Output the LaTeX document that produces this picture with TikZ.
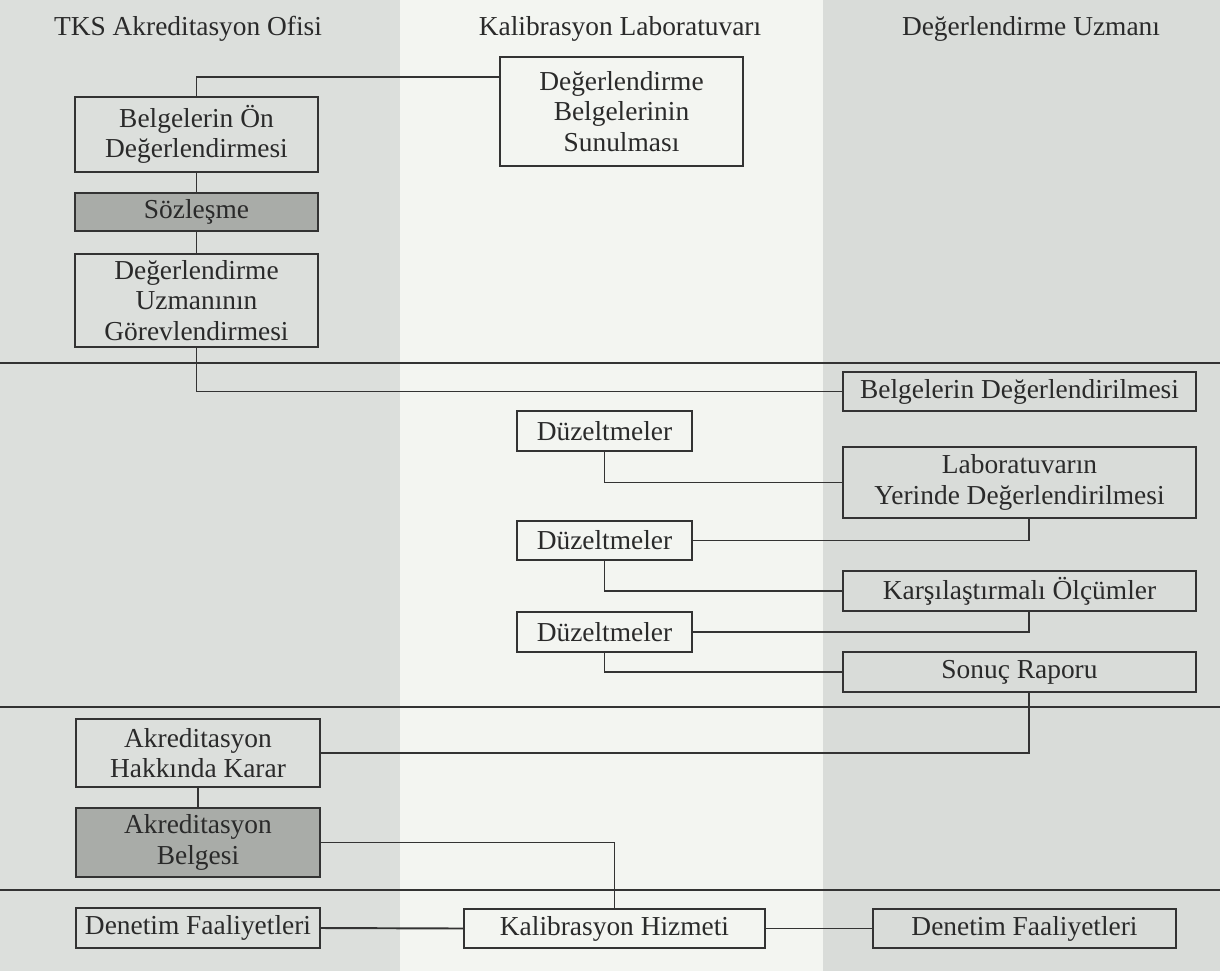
\documentclass[tikz,border=0pt]{standalone}
\usepackage{fontspec}
\setmainfont{Liberation Serif}
\definecolor{leftbg}{HTML}{DCDFDC}
\definecolor{midbg}{HTML}{F3F5F1}
\definecolor{rightbg}{HTML}{D9DCD9}
\definecolor{darkfill}{HTML}{A9ACA8}
\definecolor{ink}{HTML}{333333}
\definecolor{txt}{HTML}{2A2A2A}
\begin{document}
\begin{tikzpicture}[x=0.02cm,y=-0.02cm,
  font=\fontsize{15.6}{17.2}\selectfont,
  box/.style={draw=ink,line width=1.1pt,align=center,inner sep=0pt,text=txt},
  darkbox/.style={box,fill=darkfill},
  link/.style={draw=ink,line width=1.1pt},
  lane/.style={draw=ink,line width=1.1pt},
  head/.style={text=txt,anchor=base}]
\useasboundingbox (0,0) rectangle (1220,971);
% lanes background
\fill[leftbg] (0,0) rectangle (400,971);
\fill[midbg] (400,0) rectangle (823,971);
\fill[rightbg] (823,0) rectangle (1220,971);
% headers
\node[head] (h1) at (188,35) {TKS Akreditasyon Ofisi};
\node[head] (h2) at (620,35) {Kalibrasyon Laboratuvarı};
\node[head] (h3) at (1031,35) {Değerlendirme Uzmanı};
% separators
\draw[lane] (0,363) -- (1220,363);
\draw[lane] (0,707) -- (1220,707);
\draw[lane] (0,890) -- (1220,890);
% boxes
\node[box,minimum width=4.86cm,minimum height=1.5cm] (ond) at (196.5,134.5) {Belgelerin Ön\\Değerlendirmesi};
\node[darkbox,minimum width=4.86cm,minimum height=0.76cm] (soz) at (196.5,212) {Sözleşme};
\node[box,minimum width=4.86cm,minimum height=1.86cm] (gor) at (196.5,300.5) {Değerlendirme\\Uzmanının\\Görevlendirmesi};
\node[box,minimum width=4.86cm,minimum height=2.18cm] (dbs) at (621.5,111.5) {Değerlendirme\\Belgelerinin\\Sunulması};
\node[box,minimum width=7.06cm,minimum height=0.78cm] (bdeg) at (1019.5,391.5) {Belgelerin Değerlendirilmesi};
\node[box,minimum width=3.5cm,minimum height=0.8cm] (duz1) at (604.5,431) {Düzeltmeler};
\node[box,minimum width=7.06cm,minimum height=1.42cm] (lab) at (1019.5,482.5) {Laboratuvarın\\Yerinde Değerlendirilmesi};
\node[box,minimum width=3.5cm,minimum height=0.78cm] (duz2) at (604.5,540.5) {Düzeltmeler};
\node[box,minimum width=7.06cm,minimum height=0.8cm] (kar) at (1019.5,591) {Karşılaştırmalı Ölçümler};
\node[box,minimum width=3.5cm,minimum height=0.8cm] (duz3) at (604.5,632) {Düzeltmeler};
\node[box,minimum width=7.06cm,minimum height=0.8cm] (son) at (1019.5,672) {Sonuç Raporu};
\node[box,minimum width=4.88cm,minimum height=1.36cm] (akk) at (198,753) {Akreditasyon\\Hakkında Karar};
\node[darkbox,minimum width=4.88cm,minimum height=1.38cm] (akb) at (198,842.5) {Akreditasyon\\Belgesi};
\node[box,minimum width=4.88cm,minimum height=0.8cm] (den1) at (198,928) {Denetim Faaliyetleri};
\node[box,minimum width=6.02cm,minimum height=0.78cm] (kal) at (614.5,928.5) {Kalibrasyon Hizmeti};
\node[box,minimum width=6.06cm,minimum height=0.78cm] (den2) at (1024.5,928.5) {Denetim Faaliyetleri};
% connectors
\draw[link] (ond.north) |- (dbs.west |- 0,77);
\draw[link] (ond.south) -- (soz.north);
\draw[link] (soz.south) -- (gor.north);
\draw[link] (gor.south) |- (bdeg.west);
\draw[link] (duz1.south) |- (lab.west);
\draw[link] (lab.south -| 1029,0) |- (duz2.east);
\draw[link] (duz2.south) |- (kar.west);
\draw[link] (kar.south -| 1029,0) |- (duz3.east);
\draw[link] (duz3.south) |- (son.west);
\draw[link] (son.south -| 1029,0) |- (akk.east);
\draw[link] (akk.south) -- (akb.north);
\draw[link] (akb.east) -| (kal.north);
\draw[link] (den1.east) -- (kal.west);
\draw[link] (kal.east) -- (den2.west);
\end{tikzpicture}
\end{document}
